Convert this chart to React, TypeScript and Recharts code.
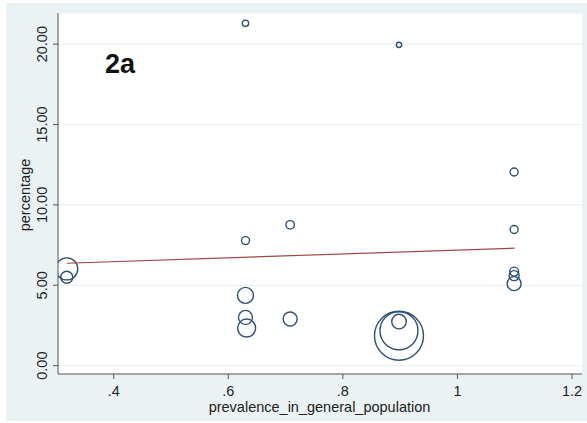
import React from 'react';
import {
  ScatterChart,
  Scatter,
  XAxis,
  YAxis,
  ZAxis,
  CartesianGrid,
} from 'recharts';

// Prevalence in the general population (x), percentage (y) and analytic weight per study
const prevalence = [0.318, 0.318, 0.63, 0.63, 0.63, 0.63, 0.632, 0.708, 0.708, 0.898, 0.898, 0.898, 0.898, 1.099, 1.099, 1.099, 1.099, 1.099];
const percentage = [6.02, 5.5, 21.3, 7.78, 4.37, 3.0, 2.34, 8.76, 2.9, 19.96, 2.74, 2.17, 1.86, 12.05, 8.47, 5.85, 5.6, 5.1];
const weight = [121, 36, 10, 16, 64, 49, 81, 18, 49, 7, 53, 361, 600, 16, 16, 20, 25, 49];

// Linear fit endpoints
const fitX = [0.318, 1.1];
const fitY = [6.37, 7.31];

const xTicks = [0.4, 0.6, 0.8, 1, 1.2];
const xTickLabels = ['.4', '.6', '.8', '1', '1.2'];
const yTicks = [0, 5, 10, 15, 20];
const yTickLabels = ['0.00', '5.00', '10.00', '15.00', '20.00'];

const points = prevalence.map((x, i) => ({ x, y: percentage[i], w: weight[i] }));
const fitLine = fitX.map((x, i) => ({ x, y: fitY[i] }));

const FONT = '"Liberation Sans", Arial, Helvetica, sans-serif';
const TEXT = '#222';
const NAVY = '#2f4f73';
const MAROON = '#a0454a';
const BG = '#eaf2f4';

const XTick = (props: any) => {
  const { x, y, payload } = props;
  const idx = xTicks.indexOf(payload.value);
  return (
    <text x={x} y={y + 14.5} textAnchor="middle" fontFamily={FONT} fontSize={14.5} fill={TEXT}>
      {idx >= 0 ? xTickLabels[idx] : payload.value}
    </text>
  );
};

const YTick = (props: any) => {
  const { x, y, payload } = props;
  const idx = yTicks.indexOf(payload.value);
  const bx = x - 4;
  return (
    <text
      x={bx}
      y={y}
      transform={`rotate(-90, ${bx}, ${y})`}
      textAnchor="middle"
      fontFamily={FONT}
      fontSize={14.5}
      fill={TEXT}
    >
      {idx >= 0 ? yTickLabels[idx] : payload.value}
    </text>
  );
};

const Bubble = (props: any) => {
  const { cx, cy, size, width } = props;
  const r = size != null ? Math.sqrt(size / Math.PI) : width / 2;
  return <circle cx={cx} cy={cy} r={r} fill="none" stroke={NAVY} strokeWidth={1.4} />;
};

const NoDot = () => null;

export default function App() {
  return (
    <div
      style={{
        position: 'absolute',
        left: 0,
        top: 0,
        width: 587,
        height: 423,
        background: '#ffffff',
      }}
    >
      <div style={{ position: 'absolute', left: 6, top: 3, width: 581, height: 418, background: BG }} />
      <div style={{ position: 'absolute', left: 58, top: 13, width: 524, height: 361, background: '#ffffff' }} />
      <div style={{ position: 'absolute', left: 0, top: 0 }}>
        <ScatterChart width={587} height={423} margin={{ top: 13, right: 5, bottom: 0, left: 0 }}>
          <CartesianGrid horizontal vertical={false} stroke={BG} strokeWidth={1.2} />
          <XAxis
            type="number"
            dataKey="x"
            domain={[0.3027, 1.2175]}
            ticks={xTicks}
            allowDataOverflow
            height={49}
            tickSize={5}
            tick={<XTick />}
            axisLine={{ stroke: '#555', strokeWidth: 1 }}
            tickLine={{ stroke: '#555' }}
          />
          <YAxis
            type="number"
            dataKey="y"
            domain={[-0.52, 21.94]}
            ticks={yTicks}
            allowDataOverflow
            width={58}
            tickSize={5}
            tick={<YTick />}
            axisLine={{ stroke: '#555', strokeWidth: 1 }}
            tickLine={{ stroke: '#555' }}
          />
          <ZAxis type="number" dataKey="w" domain={[0, 600]} range={[0, 600 * Math.PI]} />
          <Scatter data={points} shape={<Bubble />} isAnimationActive={false} />
          <Scatter
            data={fitLine}
            line={{ stroke: MAROON, strokeWidth: 1.2 }}
            shape={<NoDot />}
            isAnimationActive={false}
          />
          <text x={105} y={73} fontFamily={FONT} fontWeight="bold" fontSize={27} fill="#111">
            2a
          </text>
          <text
            x={30}
            y={195}
            transform="rotate(-90, 30, 195)"
            textAnchor="middle"
            fontFamily={FONT}
            fontSize={14.5}
            fill={TEXT}
          >
            percentage
          </text>
          <text x={319.5} y={412} textAnchor="middle" fontFamily={FONT} fontSize={14.5} fill={TEXT}>
            prevalence_in_general_population
          </text>
        </ScatterChart>
      </div>
    </div>
  );
}
